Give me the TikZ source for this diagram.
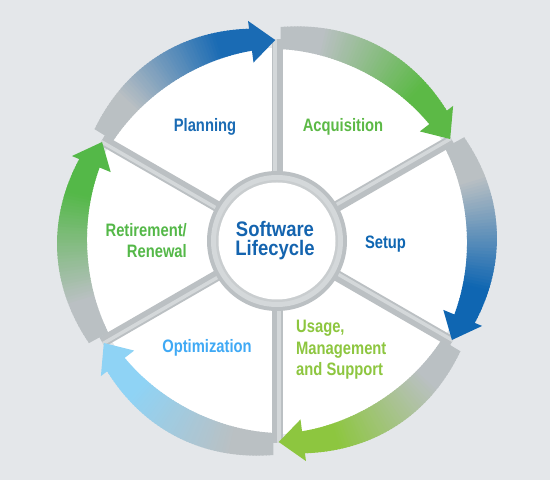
\documentclass[tikz,border=0pt]{standalone}
\usepackage{fontspec}
\setmainfont{Liberation Sans}[FakeStretch=0.82]
\newfontfamily\ctrfont{Liberation Sans}[FakeStretch=0.88]
\definecolor{bg}{HTML}{E4E7EA}
\definecolor{band}{HTML}{BAC0C3}
\definecolor{spoke}{HTML}{BBC0C3}
\definecolor{spokelight}{HTML}{D4D8DA}
\definecolor{planblue}{HTML}{1A6BB4}
\definecolor{acqgreen}{HTML}{5CB946}
\definecolor{setupblue}{HTML}{0F66B2}
\definecolor{usagegreen}{HTML}{8DC63F}
\definecolor{optblue}{HTML}{3FA9F5}
\definecolor{optarrow}{HTML}{8FD3F5}
\definecolor{retgreen}{HTML}{54B848}
\definecolor{centerblue}{HTML}{1464AF}
\newcommand\ringarrow[3]{%
  \pgfmathsetmacro\hb{#2+7}%
  \foreach \i in {0,...,59}{%
    \pgfmathsetmacro\ta{#1+(\hb-(#1))*\i/60}%
    \pgfmathsetmacro\tb{#1+(\hb-(#1))*(\i+1.4)/60}%
    \pgfmathsetmacro\s{sin(180*(\i+0.5)/60)}%
    \pgfmathsetmacro\ri{192-2*\s}%
    \pgfmathsetmacro\ro{214+6*\s}%
    \pgfmathtruncatemacro\p{max(0,min(100,((\i+0.5)/60-0.22)/0.6*100))}%
    \fill[#3!\p!band] (\ta:\ri) arc[start angle=\ta,end angle=\tb,radius=\ri] -- (\tb:\ro) arc[start angle=\tb,end angle=\ta,radius=\ro] -- cycle;
  }%
  \fill[#3] (\hb:180) -- (#2:201) -- (\hb:222) -- cycle;
}
\tikzset{
  lbl/.style={font=\fontsize{18}{20}\selectfont\bfseries, inner sep=0pt, anchor=base},
  ctr/.style={font=\ctrfont\fontsize{21}{21}\selectfont\bfseries, inner sep=0pt, anchor=base, text=centerblue},
}
\begin{document}
\begin{tikzpicture}[x=1pt,y=1pt]
\fill[bg] (0,0) rectangle (550,480);
\useasboundingbox (0,0) rectangle (550,480);
\begin{scope}[shift={(277,239)}]
  \fill[white] (0,0) circle (193);
  \foreach \a in {90,30,-30,-90,-150,150}{
    \begin{scope}[rotate=\a]
      \draw[spoke, line width=11pt] (60,0) -- (202,0);
      \draw[spokelight, line width=3.5pt] (60,1.8) -- (202,1.8);
    \end{scope}
  }
  \ringarrow{148.5}{90.5}{planblue}
  \ringarrow{89}{30.5}{acqgreen}
  \ringarrow{29}{-29.5}{setupblue}
  \ringarrow{-31}{-89.5}{usagegreen}
  \ringarrow{-91}{-149.5}{optarrow}
  \ringarrow{208.5}{150.5}{retgreen}
  \fill[spoke] (0,0) circle (70);
  \fill[spokelight] (0,0) circle (66);
  \fill[spoke!80!white] (0,0) circle (61);
  \fill[white] (0,0) circle (58.5);
\end{scope}
\node[ctr, text height=15pt, text depth=0pt] (sw) at (275,243.5) {Software};
\node[ctr, text height=15pt, text depth=4pt] (lc) at (275,224.5) {Lifecycle};
\node[lbl, text=planblue] (plan) at (205,348) {Planning};
\node[lbl, text=acqgreen] (acq) at (343,348) {Acquisition};
\node[lbl, text=setupblue] (setup) at (385.5,231) {Setup};
\node[lbl, text=retgreen, anchor=base east] (ret1) at (187,243) {Retirement/};
\node[lbl, text=retgreen, anchor=base east] (ret2) at (187,222) {Renewal};
\node[lbl, text=optblue] (opt) at (207,127) {Optimization};
\node[lbl, text=usagegreen, anchor=base west] (us1) at (296,147) {Usage,};
\node[lbl, text=usagegreen, anchor=base west] (us2) at (296,125) {Management};
\node[lbl, text=usagegreen, anchor=base west] (us3) at (296,104) {and Support};
\end{tikzpicture}
\end{document}
